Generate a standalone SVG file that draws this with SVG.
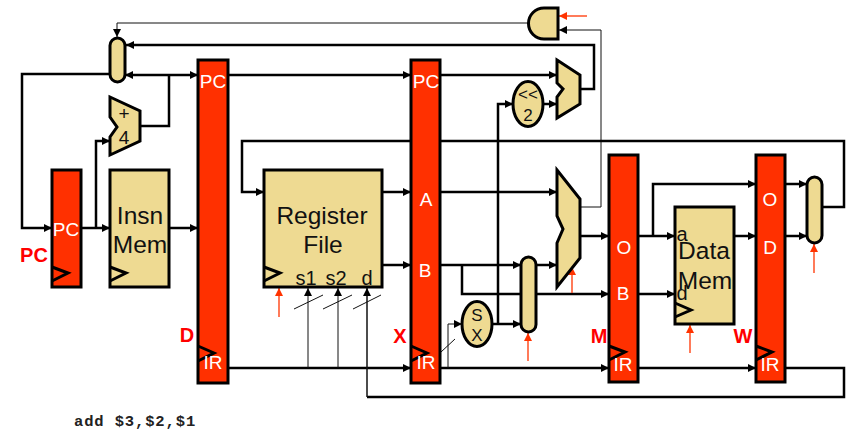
<svg xmlns="http://www.w3.org/2000/svg" width="850" height="431" viewBox="0 0 850 431">
<style>
text{font-family:"Liberation Sans",Arial,sans-serif;text-anchor:middle}
.reg{fill:#ff3000;stroke:#000;stroke-width:3}
.box{fill:#eeda92;stroke:#000;stroke-width:3;stroke-linejoin:miter}
.clk{fill:none;stroke:#000;stroke-width:3}
.w{fill:none;stroke:#000;stroke-width:2.5}
.m{fill:none;stroke:#111;stroke-width:1.5}
.t{fill:none;stroke:#111;stroke-width:1}
.a{marker-end:url(#ah)}
.r{fill:none;stroke:#ff3300;stroke-width:1.3;marker-end:url(#rh)}
.lw{fill:#fff;font-size:19px}
.lb{fill:#111;font-size:19px}
.p{fill:#111;font-size:20px}
.big{fill:#111;font-size:24.500px}
.sm{fill:#111;font-size:17px}
.st{fill:#ff0000;font-size:20px;font-weight:bold}
.code{fill:#222;font-family:"Liberation Mono",monospace;font-size:15.500px;font-weight:bold;letter-spacing:.87px;text-anchor:start}
</style>
<defs>
<marker id="ah" viewBox="0 0 8 8" refX="8" refY="4" markerUnits="userSpaceOnUse" markerWidth="8" markerHeight="8" orient="auto-start-reverse"><path d="M0,0L8,4L0,8Z" fill="#000"/></marker>
<marker id="rh" viewBox="0 0 8 8" refX="8" refY="4" markerUnits="userSpaceOnUse" markerWidth="8" markerHeight="8" orient="auto"><path d="M0,0L8,4L0,8Z" fill="#ff3300"/></marker>
</defs>
<g id="connectors">
<path class="w a" d="M110,74H22V228H52"/>
<path class="w a" d="M81,228H110"/>
<path class="w a" d="M96,228V141H110"/>
<path class="w a" d="M169,228H198"/>
<path class="w" d="M140,126H169V75"/>
<path class="w a" d="M169,75H125"/>
<path class="w a" d="M169,75H198"/>
<path class="w a" d="M228,75H411"/>
<path class="w a" d="M440,75H557"/>
<path class="w a" d="M580,89H594V45H126"/>
<path class="t a" d="M528,23H117V37"/>
<path class="t a" d="M580,207H601V30H559"/>
<path class="w a" d="M822,207H844V141H242V192H264"/>
<path class="w a" d="M382,192H411"/>
<path class="w a" d="M440,192H557"/>
<path class="w a" d="M382,265H411"/>
<path class="w a" d="M440,265H521"/>
<path class="w a" d="M536,265H557"/>
<path class="w a" d="M462,265V294H609"/>
<path class="w a" d="M492,324H521"/>
<path class="w a" d="M498,324V104H513"/>
<path class="w a" d="M543,104H557"/>
<path class="w a" d="M580,236H609"/>
<path class="w a" d="M638,236H675"/>
<path class="w a" d="M653,236V184H756"/>
<path class="w a" d="M734,236H756"/>
<path class="w a" d="M638,294H675"/>
<path class="w a" d="M785,184H807"/>
<path class="w a" d="M785,236H807"/>
<path class="w a" d="M228,368H411"/>
<path class="w a" d="M440,368H609"/>
<path class="w a" d="M638,368H756"/>
<path class="w" d="M785,368H844V397H367"/>
<path class="m a" d="M367,397V288"/>
<path class="t a" d="M308,368V288"/>
<path class="t a" d="M338,368V288"/>
<path class="t a" d="M448,368V324H462"/>
<path class="t" d="M294,309L323,295M323,309L352,295M353,309L381,295M441,352L455,339"/>
<path class="r" d="M587,16H559"/>
<path class="r" d="M279,317V288"/>
<path class="r" d="M528,361V333"/>
<path class="r" d="M572,293V267"/>
<path class="r" d="M690,353V325"/>
<path class="r" d="M814,273V244"/>
</g>
<g id="pc-reg"><rect class="reg" x="52" y="170" width="29" height="117"/><path class="clk" d="M52,267L68,273L52,281"/><text class="lw" x="66" y="236">PC</text><text class="st" x="34" y="262">PC</text></g>
<g id="insn-mem"><rect class="box" x="110" y="170" width="59" height="117"/><path class="clk" d="M110,267L126,273L110,281"/><text class="big" x="140" y="224">Insn</text><text class="big" x="140" y="253">Mem</text></g>
<g id="pc-mux"><rect class="box" x="110" y="38" width="15" height="44" rx="7.5"/></g>
<g id="pc-adder"><path class="box" d="M110,97L140,111V141L110,155V137L117,127L110,117Z"/><text class="lb" x="124" y="120">+</text><text class="lb" x="124" y="144">4</text></g>
<g id="d-reg"><rect class="reg" x="198" y="60" width="30" height="323"/><path class="clk" d="M198,346L214,353L198,361"/><text class="lw" x="213" y="88">PC</text><text class="lw" x="213" y="369">IR</text><text class="st" x="187" y="342">D</text></g>
<g id="reg-file"><rect class="box" x="264" y="170" width="118" height="117"/><path class="clk" d="M264,267L280,273L264,281"/><text class="big" x="322" y="224">Register</text><text class="big" x="323" y="253">File</text><text class="p" x="306" y="285">s1</text><text class="p" x="336" y="285">s2</text><text class="p" x="367" y="285">d</text></g>
<g id="x-reg"><rect class="reg" x="411" y="60" width="29" height="323"/><path class="clk" d="M411,346L427,353L411,361"/><text class="lw" x="426" y="88">PC</text><text class="lw" x="426" y="206">A</text><text class="lw" x="425" y="277">B</text><text class="lw" x="426" y="369">IR</text><text class="st" x="400" y="343">X</text></g>
<g id="sign-ext"><ellipse class="box" cx="477" cy="324" rx="15" ry="22.5"/><text class="sm" x="477" y="321">S</text><text class="sm" x="477" y="341">X</text></g>
<g id="shift"><ellipse class="box" cx="528" cy="104" rx="15" ry="22.5"/><text class="sm" x="528" y="100">&lt;&lt;</text><text class="sm" x="528" y="121">2</text></g>
<g id="b-mux"><rect class="box" x="521" y="257" width="15" height="75" rx="7.5"/></g>
<g id="branch-adder"><path class="box" d="M557,60L580,75V104L557,118V97L563,89L557,83Z"/></g>
<g id="alu"><path class="box" d="M557,170L580,199V258L557,287V243L563,229L557,216Z"/></g>
<g id="and-gate"><path class="box" d="M558,8H544A15.500,15.500 0 0 0 544,39H558Z"/></g>
<g id="m-reg"><rect class="reg" x="609" y="155" width="29" height="227"/><path class="clk" d="M609,346L625,352L609,360"/><text class="lw" x="624" y="254">O</text><text class="lw" x="623" y="300">B</text><text class="lw" x="623" y="371">IR</text><text class="st" x="599" y="343">M</text></g>
<g id="data-mem"><rect class="box" x="675" y="207" width="59" height="117"/><path class="clk" d="M675,303L691,310L675,317"/><text class="p" x="682" y="241">a</text><text class="p" x="682" y="300">d</text><text class="big" x="704" y="259">Data</text><text class="big" x="705" y="289">Mem</text></g>
<g id="w-reg"><rect class="reg" x="756" y="155" width="29" height="227"/><path class="clk" d="M756,346L772,352L756,360"/><text class="lw" x="770" y="206">O</text><text class="lw" x="770" y="254">D</text><text class="lw" x="770" y="371">IR</text><text class="st" x="743" y="343">W</text></g>
<g id="w-mux"><rect class="box" x="807" y="177" width="15" height="66" rx="7.5"/></g>
<g id="caption"><text class="code" x="74" y="426">add $3,$2,$1</text></g>
</svg>
